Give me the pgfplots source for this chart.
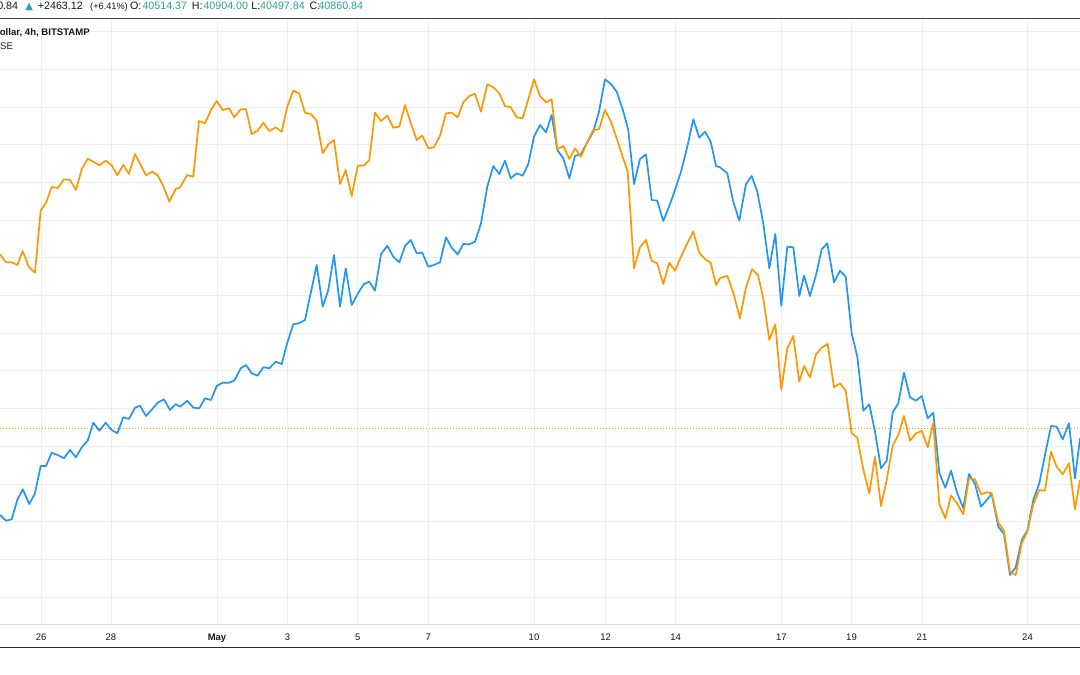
\documentclass[border=0pt]{standalone}
\usepackage{pgfplots}
\pgfplotsset{compat=1.18}
\usepackage{fontspec}
\setmainfont{Liberation Sans}
\newfontfamily\symfont{DejaVu Sans}
\definecolor{tvblue}{RGB}{33,150,243}
\definecolor{tvorange}{RGB}{255,152,0}
\definecolor{tvgrid}{RGB}{236,238,242}
\definecolor{tvaxis}{RGB}{218,221,227}
\definecolor{tvtext}{RGB}{19,23,34}
\definecolor{tvteal}{RGB}{38,166,154}
\definecolor{tvhead}{RGB}{60,63,72}
\definecolor{tvframe}{RGB}{40,42,48}
\newcommand\hd[4][10.7]{\node[anchor=base west, inner sep=0pt, text=#4, font=\fontsize{#1}{12}\selectfont] at (#2,665) {#3};}
\begin{document}
\begin{tikzpicture}[x=1pt,y=1pt]
\path[use as bounding box] (0,0) rectangle (1080,675);
\fill[white] (0,0) rectangle (1080,675);
\coordinate (axpos) at (0,50.7);
\begin{scope}
\clip (0,0) rectangle (1080,675);
\begin{axis}[
  at={(axpos)}, anchor=south west,
  scale only axis, width=1080pt, height=606.3pt,
  xmin=0, xmax=1080, ymin=18, ymax=624.3, y dir=reverse,
  axis line style={draw=none},
  xtick={41.2,111,217,287.5,357.7,428.2,534,605.6,675.6,781.3,851.5,922,1027.5},
  xticklabels={26,28,\textbf{May},3,5,7,10,12,14,17,19,21,24},
  ytick={31.6,69.3,107,144.7,182.4,220.1,257.8,295.5,333.2,370.9,408.6,446.3,484,521.7,559.4,597.1},
  yticklabels={},
  extra y ticks={624.3}, extra y tick labels={},
  extra y tick style={major grid style={draw=tvaxis, line width=1pt}},
  grid=major,
  major grid style={draw=tvgrid, line width=1pt},
  tick style={draw=none},
  xticklabel style={font=\fontsize{9.5}{11}\selectfont, text=tvtext, anchor=base, inner sep=0pt, yshift=-15.7pt},
  clip=true,
]
\addplot[tvorange, line width=0.9pt, dash pattern=on 1pt off 2pt, forget plot] coordinates {(0,428.7) (1080,428.7)};
\addplot[tvblue, line width=1.7pt, line join=round] coordinates {
(0,515)(6,520.7)(11.7,519.3)(17.3,500)(22.7,489.3)(29.3,504)(35,493.3)(40.7,466)(46,466)(51.7,452.7)(57.7,455)(64,458.3)(70,450)(76,457.3)(81.7,447.3)(87.7,440.7)(93.3,422.7)(99.3,430.7)(105.7,422.7)(111.7,430)(117.3,433.3)(123.3,417.3)(129,419)(135,407.7)(140,405.7)(146,416)(152.3,409)(157.7,402.7)(164,399.3)(170,410)(175.7,404)
(180,406.7)(187.3,400.7)(193.3,407.7)(199.3,408.3)(205,398.3)(211,400)(216.7,386)(222.7,382.7)(229,382.7)(234.3,380.7)(240.7,368.3)(246,365)(251.7,373.3)(257.7,375.7)(263.3,367.3)(269.3,368.3)(275.7,361.7)(281.7,364)(287.3,342.7)(293.3,324.3)(299,323.3)(305,320)(311,291.7)(316.7,265)(322.7,306.7)(328.3,290)(334,255)(340,306.7)(345.7,268.3)(351.7,305)(357.7,294)
(360,290)(364,284)(369.3,281.7)(375,290.7)(381,254.3)(387.3,245.7)(393.3,256.7)(399.3,262.3)(405,246)(410.7,240)(416.7,253.3)(422.3,252.7)(428.3,266.7)(434,265)(440,262.3)(446,237.3)(451.7,247.7)(457.7,254.3)(463.3,244)(469.3,244.3)(475,241.7)(481,223.3)(487.3,186.7)(493.3,166)(499.3,174)(505,160.7)(510.7,178.3)(516.7,173.3)(522.7,175.7)(528.3,164)(534,136.7)
(540,125)(546,132.3)(551.7,115)(557.3,150)(563.3,158.3)(569.3,178.3)(575,156)(581,154)(586.7,143.3)(593.3,131.7)(599,111.7)(605,79.3)(611,84)(616.7,91.7)(622.7,109.3)(628.3,130)(634,184)(640,159)(646,154.3)(651.7,200)(657.3,200.7)(663.3,221)(669.3,206)(675,190)(681,171.7)(687.3,146.7)(693.3,119.3)(699.3,137.7)(705,131.7)(710.7,141.7)(716,166)
(720,167.3)(727.3,173.3)(733.3,201.7)(739.3,220.7)(746,184)(751.7,176)(757.3,191.7)(763.3,223.3)(769.3,268.3)(775.3,234)(781.3,305.7)(787.3,246.7)(793.3,247.3)(799.3,296)(804,275.7)(810,296)(816,275)(821.7,249.3)(827.3,243.3)(834,282.3)(840,270.7)(845.7,276.7)(851.7,333.3)(857.3,356.7)(863.3,410.7)(869.3,404.3)(875,431.7)(881,468.3)(886.7,460.7)(892.7,412.3)
(898.3,403.3)(904,372.7)(910,397.3)(916,400.7)(921.7,396)(927.7,418.3)(933.3,412.7)(939.3,472.7)(945.3,487.7)(951,470.7)(956.7,491.7)(963.3,508.3)(969,474)(975,484)(981,506.7)(986.7,500)(991.7,494)(998.3,526.7)(1004,534)(1010,575)(1015.7,567.3)(1021.7,540)(1027.3,530.7)(1033.3,500)(1039.3,483.3)(1045,455)(1051,426)(1056.7,426.7)(1062.7,439.3)(1069,423.3)(1075,478.3)(1080,438.3)
};
\addplot[tvorange, line width=1.7pt, line join=round] coordinates {
(0,254.3)(6,262.3)(11.7,262.3)(17.3,265)(22.7,251)(29,267.3)(35,272.7)(40.7,210.7)(46,202.7)(51.7,187)(57.7,188)(64,179.3)(70,180)(76,190)(81.7,169.3)(87.7,158.7)(93.3,161.7)(99.3,165.3)(105.7,160.7)(111.7,165.3)(117.3,175.3)(123.3,165)(129,174)(135,154)(140.7,165)(146,175.3)(152.3,171.7)(157.7,175.3)(163.3,186)(169.3,201.7)(175.7,189)
(180,187.3)(187.3,175)(193.3,176.7)(199,121)(205,123.3)(211,110)(216.7,101)(222.7,110)(229,108.3)(234.3,117.3)(240.7,109.3)(246,109.3)(251.7,134)(257.7,130.7)(263.3,122.7)(269.3,131)(275.7,127.3)(281.7,131.7)(287.3,106.7)(293.3,90.7)(299,93.3)(305,112.7)(311,114)(316.7,120.7)(322.7,153.3)(328.3,144.3)(334,140)(340,184)(345.7,170)(351.7,196)(357.7,166)
(360,165.7)(364,165.3)(369.3,160)(375,112.7)(381,121)(387.3,115.7)(393.3,127.7)(399.3,126.7)(405,105)(410.7,122.7)(416.7,140)(422.3,135.7)(428.3,148.3)(434,147.3)(440,135.7)(446,113.3)(451.7,112.7)(457.7,117.3)(463.3,102.3)(469.3,96)(475,93.7)(481,111.7)(487.3,84.3)(493.3,87.3)(499.3,93.3)(505,106)(510.7,107.3)(516.7,117.3)(522.7,118.3)(528.3,99.3)(534,79.3)
(540,96)(546,102.3)(551.7,99.3)(557.3,149.3)(563.3,146)(569.3,159)(575,148.3)(581,156.7)(586.7,143.3)(593.3,130)(599,129.3)(605,110)(611,121.7)(616.7,138.3)(622.7,156.7)(627.7,171.7)(634,268.3)(640,247.3)(646,240)(651.7,260.7)(657.3,263.3)(663.3,284)(669.3,262.7)(675,270.7)(681,256.7)(687.3,243.3)(693.3,231.7)(699.3,252.7)(705,259)(710.7,262.7)(716,285)
(720,278.3)(727.3,275.7)(733.3,292.7)(740,318.3)(746,287.3)(752,269.3)(758,275)(763.3,298.3)(769.3,340)(775.3,324.3)(781.3,390)(787.3,348.3)(793.3,336)(799.3,381.7)(804,366)(810,377.3)(816,354.3)(821.7,347.7)(827.7,344)(834,387.3)(840,383.3)(845.7,390.7)(851.7,433.3)(857.3,437.7)(863.3,469.3)(869.3,493.3)(875,456.7)(881,506)(886.7,480)(892.7,445.7)
(898.3,435)(904,416)(910,440.7)(916,433.3)(921.7,431)(927.7,447.3)(933.3,422.7)(939.3,504)(945.3,518.3)(951,495.7)(956.7,502.7)(963.3,514.3)(969,478.3)(975,479.3)(981,494.3)(986.7,492.3)(991.7,493.3)(998.3,522.7)(1004,530.7)(1010,571.7)(1015.7,575)(1021.7,543.3)(1027.3,531.7)(1033.3,504.3)(1039.3,490)(1045,490.7)(1051,451.7)(1056.7,466.7)(1062.7,474.3)(1069,463.3)(1075,509.3)(1080,480)
};
\end{axis}
% header
\draw[draw=tvhead, line width=1.2pt] (0,656.7) -- (1080,656.7);
\node[anchor=base east, inner sep=0pt, text=tvtext, font=\fontsize{10.7}{12}\selectfont] at (18.3,665) {40860.84};
\node[anchor=base, inner sep=0pt, text=tvteal, font=\symfont\fontsize{10}{10}\selectfont] at (29.2,665) {▲};
\hd{37.7}{+2463.12}{tvtext}
\hd[9.2]{90}{(+6.41\%)}{tvtext}
\hd{129.8}{O:}{tvtext}
\hd{142.3}{40514.37}{tvteal}
\hd{191.7}{H:}{tvtext}
\hd{203.3}{40904.00}{tvteal}
\hd{251.2}{L:}{tvtext}
\hd{260}{40497.84}{tvteal}
\hd{309.5}{C:}{tvtext}
\hd{318.3}{40860.84}{tvteal}
\node[anchor=base east, inner sep=0pt, text=tvtext, font=\bfseries\fontsize{9.6}{11}\selectfont] at (90,639) {Bitcoin / U.S. Dollar, 4h, BITSTAMP};
\node[anchor=base east, inner sep=0pt, text=tvtext, font=\fontsize{9.6}{11}\selectfont] at (13.2,625) {ETHUSD, COINBASE};
% bottom frame line
\draw[draw=tvframe, line width=1.2pt] (0,27.2) -- (1080,27.2);
\end{scope}
\end{tikzpicture}
\end{document}
